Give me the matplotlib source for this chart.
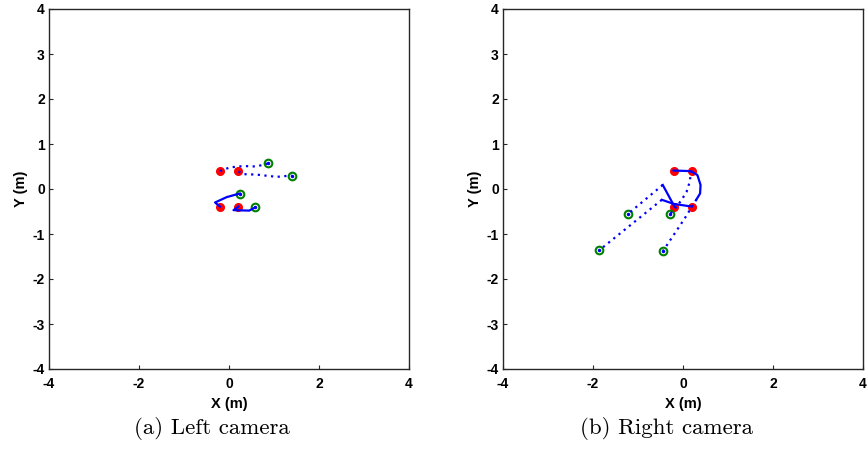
import matplotlib.pyplot as plt

plt.rcParams['font.family'] = 'Liberation Sans'
plt.rcParams['font.weight'] = 'bold'
plt.rcParams['axes.unicode_minus'] = False

# Left camera trajectories: (solid x, solid y, dotted x, dotted y)
left_solid_x = [[-0.20], [0.21], [-0.20, -0.31, -0.05, 0.24], [0.21, 0.10, 0.45, 0.58]]
left_solid_y = [[0.40], [0.39], [-0.39, -0.30, -0.18, -0.10], [-0.39, -0.47, -0.48, -0.41]]
left_dot_x = [[-0.20, 0.02, 0.32, 0.61, 0.87], [0.21, 0.32, 0.61, 1.06, 1.39], [], []]
left_dot_y = [[0.40, 0.48, 0.51, 0.50, 0.57], [0.39, 0.33, 0.32, 0.27, 0.30], [], []]
left_start_x = [-0.20, 0.21, -0.20, 0.21]
left_start_y = [0.40, 0.39, -0.39, -0.39]
left_end_x = [0.87, 1.39, 0.24, 0.58]
left_end_y = [0.57, 0.30, -0.10, -0.41]

# Right camera trajectories
right_solid_x = [[-0.21, 0.10, 0.19, 0.32, 0.39, 0.38, 0.30], [0.19],
                 [-0.19, -0.45], [0.19, -0.21, -0.47]]
right_solid_y = [[0.41, 0.40, 0.39, 0.31, 0.09, -0.10, -0.23], [0.41],
                 [-0.39, 0.09], [-0.39, -0.33, -0.24]]
right_dot_x = [[0.30, 0.04, -0.44], [0.19, 0.14, 0.08, -0.03, -0.14, -0.29],
               [-0.45, -1.23], [-0.47, -1.86]]
right_dot_y = [[-0.23, -0.65, -1.37], [0.41, 0.13, -0.06, -0.24, -0.39, -0.56],
               [0.09, -0.56], [-0.24, -1.36]]
right_start_x = [-0.21, 0.19, -0.19, 0.19]
right_start_y = [0.41, 0.41, -0.39, -0.39]
right_end_x = [-0.44, -0.29, -1.23, -1.86]
right_end_y = [-1.37, -0.56, -0.56, -1.36]

captions = ['(a) Left camera', '(b) Right camera']

fig = plt.figure(figsize=(8.68, 4.53), dpi=100)
ax1 = fig.add_axes([49/868, 1-369/453, 360/868, 360/453])
ax2 = fig.add_axes([503/868, 1-369/453, 360/868, 360/453])

cams = [
    (ax1, left_solid_x, left_solid_y, left_dot_x, left_dot_y, left_start_x, left_start_y, left_end_x, left_end_y),
    (ax2, right_solid_x, right_solid_y, right_dot_x, right_dot_y, right_start_x, right_start_y, right_end_x, right_end_y),
]

for i, (ax, sx, sy, dx, dy, stx, sty, enx, eny) in enumerate(cams):
    ax.plot(stx, sty, 'o', color='red', markersize=5.5, zorder=2)
    ax.plot(enx, eny, 'o', markerfacecolor='none', markeredgecolor='#008000',
            markersize=5.5, markeredgewidth=1.5, zorder=2)
    for k in range(len(sx)):
        if len(sx[k]) > 1:
            ax.plot(sx[k], sy[k], '-', color='blue', linewidth=1.6, zorder=3)
        if len(dx[k]) > 1:
            ax.plot(dx[k], dy[k], color='blue', linewidth=1.6,
                    linestyle=(0, (1, 2)), zorder=3)
    ax.plot(enx, eny, '.', color='blue', markersize=3, zorder=4)

    ax.set_xlim(-4, 4)
    ax.set_ylim(-4, 4)
    ax.set_xticks([-4, -2, 0, 2, 4])
    ax.set_yticks([-4, -3, -2, -1, 0, 1, 2, 3, 4])
    ax.tick_params(direction='in', length=3, width=0.8, labelsize=10,
                   color='#262626')
    ax.tick_params(axis='x', pad=6)
    ax.tick_params(axis='y', pad=3)
    for lab in ax.get_xticklabels() + ax.get_yticklabels():
        lab.set_fontweight('bold')
    for sp in ax.spines.values():
        sp.set_linewidth(1.0)
        sp.set_color('#262626')
    ax.set_xlabel('X (m)', fontsize=10.5, fontweight='bold', labelpad=4)
    ax.set_ylabel('Y (m)', fontsize=10.5, fontweight='bold', labelpad=3)

    pos = ax.get_position()
    cx = pos.x0 + pos.width / 2 - 17 / 868
    fig.text(cx, 1 - 428 / 453, captions[i], ha='center', va='center',
             fontsize=16.5, fontfamily='cmr10', fontweight='normal')

fig.savefig('out.png', dpi=100, facecolor='white')
